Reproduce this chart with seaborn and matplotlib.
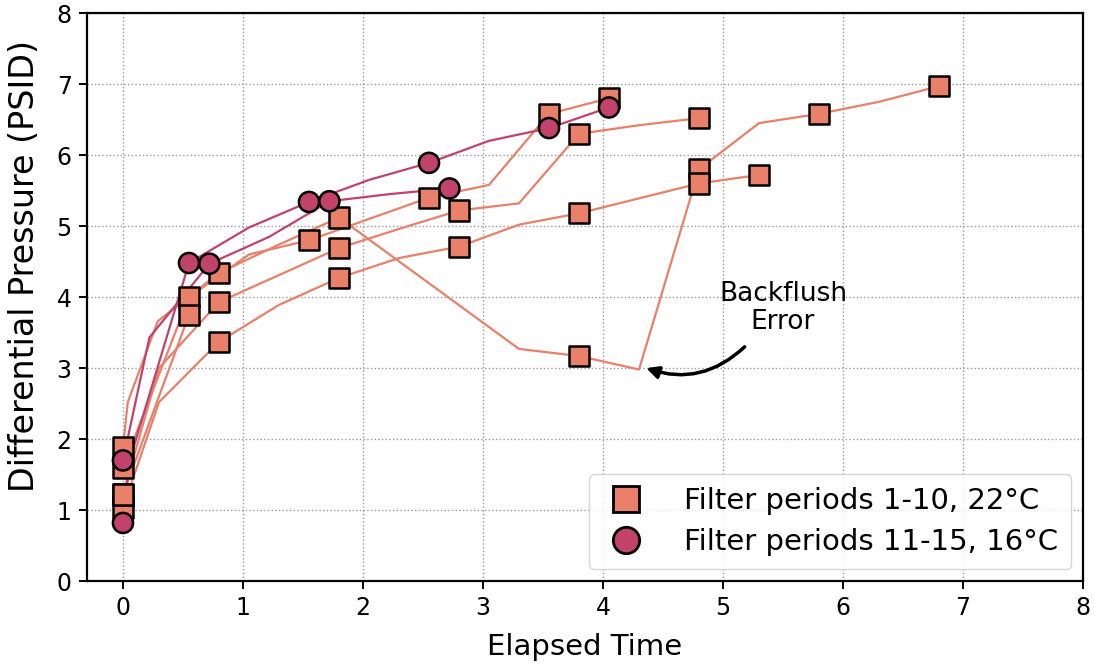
import matplotlib
matplotlib.use("Agg")
import matplotlib.pyplot as plt
import seaborn as sns
import pandas as pd
from matplotlib.lines import Line2D

# ---------------- data ----------------
# Filter periods at 22 C (squares)
p1_t = [0, 0.04, 0.29, 0.8, 1.3, 1.8, 3.3, 3.8, 4.3, 4.8, 5.3, 5.8, 6.3, 6.8]
p1_dp = [1.89, 2.52, 3.66, 4.34, 4.74, 5.12, 3.27, 3.17, 2.98, 5.8, 6.45, 6.58, 6.75, 6.97]
p1_mark = [1, 0, 0, 1, 0, 1, 0, 1, 0, 1, 0, 1, 0, 1]

p2_t = [0, 0.3, 0.8, 1.3, 1.8, 2.3, 2.8, 3.3, 3.8, 4.3, 4.8, 5.3]
p2_dp = [1.03, 2.52, 3.37, 3.89, 4.27, 4.55, 4.71, 5.02, 5.18, 5.39, 5.6, 5.72]
p2_mark = [1, 0, 1, 0, 1, 0, 1, 0, 1, 0, 1, 1]

p3_t = [0, 0.55, 1.05, 1.55, 2.05, 2.55, 3.05, 3.55, 4.05]
p3_dp = [1.6, 4.0, 4.6, 4.8, 5.1, 5.4, 5.58, 6.58, 6.8]
p3_mark = [1, 1, 0, 1, 0, 1, 0, 1, 1]

p4_t = [0, 0.3, 0.8, 1.3, 1.8, 2.3, 2.8, 3.3, 3.8, 4.3, 4.8]
p4_dp = [1.22, 3.0, 3.93, 4.31, 4.69, 4.96, 5.22, 5.32, 6.3, 6.42, 6.52]
p4_mark = [1, 0, 1, 0, 1, 0, 1, 0, 1, 0, 1]

p5_t = [0, 0.05, 0.55]
p5_dp = [1.22, 1.45, 3.75]
p5_mark = [1, 0, 1]

# Filter periods at 16 C (circles)
p11_t = [0, 0.05, 0.55, 1.05, 1.55, 2.05, 2.55, 3.05, 3.55, 4.05]
p11_dp = [0.82, 1.67, 4.48, 4.98, 5.34, 5.65, 5.89, 6.2, 6.38, 6.67]
p11_mark = [1, 0, 1, 0, 1, 0, 1, 0, 1, 1]

p12_t = [0, 0.22, 0.72, 1.22, 1.72, 2.22, 2.72]
p12_dp = [1.7, 3.43, 4.47, 4.85, 5.35, 5.45, 5.53]
p12_mark = [1, 0, 1, 0, 1, 0, 1]

groups = ["Filter periods 1-10, 22°C", "Filter periods 11-15, 16°C"]
group_colors = ["#E8806A", "#C1426B"]

series = [
    ("P1", groups[0], p1_t, p1_dp, p1_mark),
    ("P2", groups[0], p2_t, p2_dp, p2_mark),
    ("P3", groups[0], p3_t, p3_dp, p3_mark),
    ("P4", groups[0], p4_t, p4_dp, p4_mark),
    ("P5", groups[0], p5_t, p5_dp, p5_mark),
    ("P11", groups[1], p11_t, p11_dp, p11_mark),
    ("P12", groups[1], p12_t, p12_dp, p12_mark),
]

rows = []
for name, grp, ts, ds, ms in series:
    for t, d, m in zip(ts, ds, ms):
        rows.append({"period": name, "group": grp, "time": t, "dp": d, "mark": m})
df = pd.DataFrame(rows)

# ---------------- plot ----------------
sns.set_theme(style="ticks")
plt.rcParams["font.family"] = ["DejaVu Sans"]
for k in ["text.color", "axes.labelcolor", "xtick.color", "ytick.color", "axes.edgecolor"]:
    plt.rcParams[k] = "black"

fig, ax = plt.subplots(figsize=(10.94, 6.68), dpi=100)
fig.subplots_adjust(left=0.0795, right=0.99, top=0.9805, bottom=0.130)

palette = dict(zip(groups, group_colors))

sns.lineplot(data=df, x="time", y="dp", units="period", estimator=None,
             hue="group", palette=palette, sort=False, legend=False,
             lw=1.6, ax=ax, zorder=2)

marked = df[df["mark"] == 1]
sns.scatterplot(data=marked, x="time", y="dp", hue="group", style="group",
                markers={groups[0]: "s", groups[1]: "o"}, palette=palette,
                s=210, edgecolor="black", linewidth=1.8, legend=False,
                ax=ax, zorder=3)

ax.set_xlim(-0.3, 8)
ax.set_ylim(0, 8)
ax.set_xticks(range(0, 9))
ax.set_yticks(range(0, 9))
ax.grid(True, linestyle=":", color="#999999", linewidth=1.0)
ax.set_axisbelow(True)
for sp in ax.spines.values():
    sp.set_linewidth(1.6)
    sp.set_color("black")
ax.tick_params(axis="both", labelsize=17, width=1.4, length=6, color="black",
               labelcolor="black", pad=5)
ax.set_xlabel("Elapsed Time", fontsize=21, labelpad=9)
ax.set_ylabel("Differential Pressure (PSID)", fontsize=24)
ax.yaxis.set_label_coords(-0.046, 0.555)

ax.annotate("", xy=(4.36, 3.0), xytext=(5.18, 3.3),
            arrowprops=dict(arrowstyle="-|>", color="black", lw=2.5,
                            connectionstyle="arc3,rad=-0.3",
                            shrinkA=0, shrinkB=0, mutation_scale=18))
ax.text(5.5, 3.85, "Backflush\nError", ha="center", va="center", fontsize=19,
        linespacing=1.1)

handles = [
    Line2D([], [], marker="s", linestyle="none", markersize=19,
           markerfacecolor=group_colors[0], markeredgecolor="black", markeredgewidth=2),
    Line2D([], [], marker="o", linestyle="none", markersize=19,
           markerfacecolor=group_colors[1], markeredgecolor="black", markeredgewidth=2),
]
ax.legend(handles, groups, loc="lower right", fontsize=21, frameon=True,
          fancybox=True, handletextpad=1.2, handlelength=1.6, borderpad=0.45,
          labelspacing=0.45, framealpha=0.8, edgecolor="#cccccc",
          borderaxespad=0.4)

fig.savefig("out.png", dpi=100)
